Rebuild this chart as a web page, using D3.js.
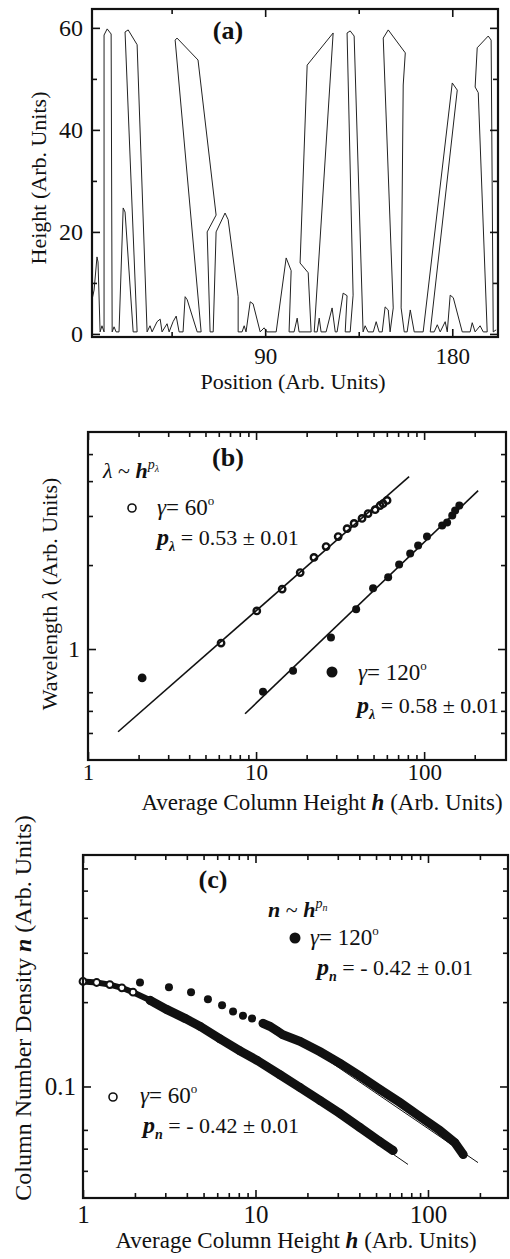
<!DOCTYPE html>
<html>
<head>
<meta charset="utf-8">
<script src="https://cdn.jsdelivr.net/npm/d3@7"></script>
<style>
  body { margin: 0; background: #fff; }
  svg text { font-family: "Liberation Serif", "Times New Roman", serif; fill: #111; }
</style>
</head>
<body>
<div id="chart"></div>
<script>
// ---------- data ----------

// (a) surface profile: [position, height]
const profile = [
  [6.7,6.7],[7.7,8.6],[9.1,15.1],[9.6,14.1],[10.6,0.4],[11.5,1.6],[12.5,0.4],[12.5,58.6],[14.0,59.8],[15.9,58.8],
  [16.4,0.4],[17.3,1.4],[18.3,0.4],[19.7,0.4],[21.7,24.7],[22.6,23.9],[26.5,0.4],[28.4,0.4],[22.6,59.2],[24.1,59.6],
  [28.4,56.7],[33.2,0.4],[34.6,1.6],[35.6,0.4],[38.0,2.4],[39.5,2.9],[40.4,0.4],[42.8,2.0],[43.8,0.4],[45.7,2.4],
  [47.2,3.5],[48.6,0.4],[50.5,0.4],[51.5,7.3],[52.5,6.7],[57.3,0.4],[59.2,0.4],[46.7,57.6],[47.6,58.0],[57.7,53.7],
  [66.4,23.3],[62.1,20.0],[63.5,0.4],[65.0,0.4],[66.4,20.0],[70.7,23.7],[72.2,22.4],[77.0,7.3],[77.0,0.4],[78.9,0.4],
  [79.9,1.6],[80.8,0.4],[82.8,6.3],[84.2,5.9],[87.6,0.4],[89.5,1.2],[90.9,0.4],[95.3,0.4],[100.1,14.9],[102.5,12.4],
  [101.5,0.4],[103.9,0.4],[105.4,3.1],[106.3,0.4],[112.1,0.4],[110.7,12.0],[106.8,13.9],[110.2,52.7],[122.7,59.0],[113.6,0.4],
  [115.0,0.4],[116.0,3.1],[116.9,0.4],[119.3,0.4],[122.2,5.1],[123.7,0.4],[124.6,0.4],[127.5,8.0],[129.4,7.5],[128.5,0.4],
  [130.9,0.4],[132.3,7.6],[129.4,59.0],[130.9,59.4],[132.8,58.4],[137.1,0.4],[138.1,1.6],[139.5,0.4],[142.0,0.4],[143.4,2.4],
  [144.8,0.4],[146.3,0.4],[147.7,5.3],[149.2,4.7],[150.1,0.4],[151.6,5.1],[146.8,58.0],[149.2,59.6],[157.4,55.1],[156.4,48.8],
  [155.4,5.1],[156.9,0.4],[158.3,0.4],[159.8,4.7],[161.7,0.4],[166.0,0.4],[180.0,49.2],[182.4,47.8],[169.4,0.4],[171.3,0.4],
  [172.8,1.8],[174.2,0.4],[176.6,2.4],[177.6,0.4],[179.0,7.6],[180.5,7.1],[184.8,0.4],[188.6,0.4],[189.6,2.2],[191.0,0.4],
  [193.4,1.6],[194.9,0.4],[196.8,0.4],[192.5,47.3],[191.0,48.4],[192.0,56.1],[197.3,58.4],[198.7,57.6],[199.7,0.4],[201.1,0.8]
];
const aXMajor = [90, 180];
const aXMinor = [45, 135];
const aYMajor = [0, 20, 40, 60];
const aYMinor = [10, 30, 50];

// (b) wavelength vs average column height
const lam60H  = [2.1, 6.19, 10.1, 14.3, 18.3, 22.1, 26.1, 30.8, 34.8, 38.3, 42.7, 46.4, 51.1, 54.7, 57.0, 60.2];
const lam60   = [0.788, 1.05, 1.37, 1.64, 1.88, 2.13, 2.33, 2.53, 2.70, 2.82, 2.94, 3.06, 3.16, 3.27, 3.32, 3.41];
const lam120H = [11.0, 16.6, 27.9, 39.4, 49.7, 61.1, 71.0, 82.6, 92.1, 104, 128, 137, 147, 153, 162];
const lam120  = [0.702, 0.835, 1.10, 1.39, 1.65, 1.81, 2.01, 2.20, 2.35, 2.53, 2.77, 2.84, 3.01, 3.14, 3.27];
const lamFit60  = [[1.51, 0.505], [81.4, 4.15]];
const lamFit120 = [[8.6, 0.586], [209.6, 3.70]];
const logXMajor = [1, 10, 100];
const logXMinor = [2, 3, 4, 5, 6, 7, 8, 9, 20, 30, 40, 50, 60, 70, 80, 90, 200];
const bYMajor = [1];
const bYMinor = [0.5, 0.6, 0.7, 2, 3, 4, 5];

// (c) column number density vs average column height
const den60H  = [1.0, 1.2, 1.43, 1.68, 1.95, 2.45, 3.07, 3.90, 4.77, 6.22, 8.13, 10.2, 13.9, 18.1, 23.7, 30.9, 40.3, 52.7, 62.7];
const den60   = [0.237, 0.235, 0.231, 0.225, 0.217, 0.203, 0.188, 0.175, 0.164, 0.148, 0.134, 0.124, 0.110, 0.0992, 0.0891, 0.0801, 0.0714, 0.0636, 0.0591];
const den120H = [2.14, 3.15, 4.23, 5.30, 6.40, 7.41, 8.46, 9.55, 11.05, 12.1, 13.3, 14.4, 18.1, 23.7, 30.9, 40.3, 52.7, 68.8, 89.9, 117, 143, 160];
const den120  = [0.235, 0.226, 0.217, 0.205, 0.195, 0.185, 0.179, 0.175, 0.168, 0.164, 0.158, 0.153, 0.145, 0.133, 0.121, 0.109, 0.0975, 0.0877, 0.0781, 0.0697, 0.0631, 0.0572];
const denFit60  = [[10.2, 0.124], [76.6, 0.0527]];
const denFit120 = [[18.1, 0.145], [195, 0.0535]];
const cYMajor = [0.1];
const cYMinor = [0.05, 0.06, 0.07, 0.2, 0.3, 0.4, 0.5, 0.6];

// ---------- svg ----------
const W = 510, H = 1259;
const svg = d3.select('#chart')
  .append('svg')
  .attr('width', W)
  .attr('height', H)
  .attr('viewBox', [0, 0, W, H]);

const serif = '"Liberation Serif", "Times New Roman", serif';

function addAxis(g, axis, tr, vals, size, fmt, pad, fs) {
  const a = g.append('g')
    .attr('transform', tr)
    .call(axis.tickValues(vals).tickSize(-size).tickPadding(pad || 3).tickFormat(fmt || (() => '')))
    .attr('font-family', serif)
    .attr('font-size', fs || 24);
  a.select('.domain').remove();
  a.selectAll('line').attr('stroke', '#111').attr('stroke-width', 1.6);
  a.selectAll('text').attr('fill', '#111');
  return a;
}

function frame(g, w, h) {
  g.append('rect')
    .attr('width', w).attr('height', h)
    .attr('fill', 'none').attr('stroke', '#111').attr('stroke-width', 2.2);
}

function legendGamma(x0, y0, deg) {
  const t = svg.append('text').attr('x', x0).attr('y', y0).attr('font-size', 23);
  t.append('tspan').attr('font-style', 'italic').text('γ');
  t.append('tspan').text('= ' + deg);
  t.append('tspan').attr('font-size', 13).attr('dy', -10).text('o');
}

function legendP(x0, y0, sub, rest) {
  const t = svg.append('text').attr('x', x0).attr('y', y0).attr('font-size', 22);
  t.append('tspan').attr('font-style', 'italic').attr('font-weight', 'bold').attr('font-size', 24).text('p');
  t.append('tspan').attr('font-style', 'italic').attr('font-weight', 'bold').attr('font-size', 14).attr('dy', 6).text(sub);
  t.append('tspan').attr('dy', -6).text(' = ' + rest);
}

function xTitle(cx, y0) {
  const t = svg.append('text').attr('x', cx).attr('y', y0)
    .attr('text-anchor', 'middle').attr('font-size', 23);
  t.append('tspan').text('Average Column Height ');
  t.append('tspan').attr('font-style', 'italic').attr('font-weight', 'bold').text('h');
  t.append('tspan').text(' (Arb. Units)');
}

// ================= (a) =================
{
  const left = 92, top = 9, w = 406, h = 328;
  const g = svg.append('g').attr('transform', `translate(${left},${top})`);
  const x = d3.scaleLinear().domain([6.7, 202]).range([0, w]);
  const y = d3.scaleLinear().domain([-0.6, 63.7]).range([h, 0]);

  g.append('path')
    .datum(profile)
    .attr('fill', 'none')
    .attr('stroke', '#222')
    .attr('stroke-width', 1)
    .attr('stroke-linejoin', 'round')
    .attr('d', d3.line().x(d => x(d[0])).y(d => y(d[1])));

  addAxis(g, d3.axisBottom(x), `translate(0,${h})`, aXMajor, 8, d3.format('d'), 11, 23);
  addAxis(g, d3.axisBottom(x), `translate(0,${h})`, aXMinor, 5);
  addAxis(g, d3.axisTop(x), 'translate(0,0)', aXMajor, 8);
  addAxis(g, d3.axisTop(x), 'translate(0,0)', aXMinor, 5);
  addAxis(g, d3.axisLeft(y), 'translate(0,0)', aYMajor, 8, d3.format('d'), 9, 24);
  addAxis(g, d3.axisLeft(y), 'translate(0,0)', aYMinor, 5);
  addAxis(g, d3.axisRight(y), `translate(${w},0)`, aYMajor, 8);
  addAxis(g, d3.axisRight(y), `translate(${w},0)`, aYMinor, 5);
  frame(g, w, h);

  svg.append('text').attr('x', 228).attr('y', 39)
    .attr('text-anchor', 'middle').attr('font-size', 26).attr('font-weight', 'bold').text('(a)');
  svg.append('text').attr('transform', 'translate(46,178) rotate(-90)')
    .attr('text-anchor', 'middle').attr('font-size', 22).text('Height (Arb. Units)');
  svg.append('text').attr('x', 293).attr('y', 389)
    .attr('text-anchor', 'middle').attr('font-size', 22).text('Position (Arb. Units)');
}

// ================= (b) =================
{
  const left = 88, top = 432, w = 418, h = 328;
  const g = svg.append('g').attr('transform', `translate(${left},${top})`);
  const x = d3.scaleLog().domain([1, 307]).range([0, w]);
  const y = d3.scaleLog().domain([0.4, 6]).range([h, 0]);
  const line = d3.line().x(d => x(d[0])).y(d => y(d[1]));

  g.append('path').datum(lamFit60).attr('d', line)
    .attr('fill', 'none').attr('stroke', '#111').attr('stroke-width', 1.6);
  g.append('path').datum(lamFit120).attr('d', line)
    .attr('fill', 'none').attr('stroke', '#111').attr('stroke-width', 1.6);

  g.selectAll('.p60').data(lam60H).join('circle')
    .attr('class', 'p60')
    .attr('cx', d => x(d)).attr('cy', (d, i) => y(lam60[i]))
    .attr('r', 3.2)
    .attr('fill', (d, i) => i === 0 ? '#111' : 'none')
    .attr('stroke', '#111').attr('stroke-width', 2.4);

  g.selectAll('.p120').data(lam120H).join('circle')
    .attr('class', 'p120')
    .attr('cx', d => x(d)).attr('cy', (d, i) => y(lam120[i]))
    .attr('r', 4).attr('fill', '#111');

  addAxis(g, d3.axisBottom(x), `translate(0,${h})`, logXMajor, 8, d3.format('d'), 4, 23);
  addAxis(g, d3.axisBottom(x), `translate(0,${h})`, logXMinor, 5);
  addAxis(g, d3.axisTop(x), 'translate(0,0)', logXMajor, 8);
  addAxis(g, d3.axisTop(x), 'translate(0,0)', logXMinor, 5);
  addAxis(g, d3.axisLeft(y), 'translate(0,0)', bYMajor, 8, d3.format('d'), 8, 24);
  addAxis(g, d3.axisLeft(y), 'translate(0,0)', bYMinor, 5);
  addAxis(g, d3.axisRight(y), `translate(${w},0)`, bYMajor, 8);
  addAxis(g, d3.axisRight(y), `translate(${w},0)`, bYMinor, 5);
  frame(g, w, h);

  svg.append('text').attr('x', 228).attr('y', 466)
    .attr('text-anchor', 'middle').attr('font-size', 26).attr('font-weight', 'bold').text('(b)');

  const law = svg.append('text').attr('x', 103).attr('y', 478).attr('font-size', 22);
  law.append('tspan').attr('font-style', 'italic').text('λ');
  law.append('tspan').text(' ~ ');
  law.append('tspan').attr('font-style', 'italic').attr('font-weight', 'bold').text('h');
  law.append('tspan').attr('font-style', 'italic').attr('font-size', 14).attr('dy', -9).text('p');
  law.append('tspan').attr('font-style', 'italic').attr('font-size', 10).attr('dy', 3).text('λ');

  svg.append('circle').attr('cx', 132).attr('cy', 508).attr('r', 4)
    .attr('fill', 'none').attr('stroke', '#111').attr('stroke-width', 1.6);
  legendGamma(157, 515, '60');
  legendP(157, 545, 'λ', '0.53 ± 0.01');

  svg.append('circle').attr('cx', 332).attr('cy', 672).attr('r', 5.5).attr('fill', '#111');
  legendGamma(358, 680, '120');
  legendP(357, 713, 'λ', '0.58 ± 0.01');

  const yt = svg.append('text').attr('transform', 'translate(57,594) rotate(-90)')
    .attr('text-anchor', 'middle').attr('font-size', 22);
  yt.append('tspan').text('Wavelength ');
  yt.append('tspan').attr('font-style', 'italic').text('λ');
  yt.append('tspan').text(' (Arb. Units)');

  xTitle(322, 810);
}

// ================= (c) =================
{
  const left = 83, top = 855, w = 425, h = 343;
  const g = svg.append('g').attr('transform', `translate(${left},${top})`);
  const x = d3.scaleLog().domain([1, 291]).range([0, w]);
  const y = d3.scaleLog().domain([0.04, 0.67]).range([h, 0]);
  const line = d3.line().x(d => x(d[0])).y(d => y(d[1]));

  // dense marker bands
  const pts60 = den60H.map((d, i) => [d, den60[i]]);
  const band60a = pts60.filter(d => d[0] <= 2.5);
  const band60b = pts60.filter(d => d[0] >= 2.4);
  const band120 = den120H.map((d, i) => [d, den120[i]]).filter(d => d[0] >= 11);
  g.append('path').datum(band60a).attr('d', line)
    .attr('fill', 'none').attr('stroke', '#111').attr('stroke-width', 6).attr('stroke-linecap', 'round');
  g.append('path').datum(band60b).attr('d', line)
    .attr('fill', 'none').attr('stroke', '#111').attr('stroke-width', 9).attr('stroke-linecap', 'round');
  g.append('path').datum(band120).attr('d', line)
    .attr('fill', 'none').attr('stroke', '#111').attr('stroke-width', 9).attr('stroke-linecap', 'round');

  g.append('path').datum(denFit60).attr('d', line)
    .attr('fill', 'none').attr('stroke', '#111').attr('stroke-width', 1);
  g.append('path').datum(denFit120).attr('d', line)
    .attr('fill', 'none').attr('stroke', '#111').attr('stroke-width', 1);

  g.selectAll('.d60').data(den60H).join('circle')
    .attr('class', 'd60')
    .attr('cx', d => x(d)).attr('cy', (d, i) => y(den60[i]))
    .attr('r', 3.4).attr('fill', (d, i) => d < 2.2 ? '#fff' : 'none')
    .attr('stroke', '#111').attr('stroke-width', 2);

  g.selectAll('.d120').data(den120H).join('circle')
    .attr('class', 'd120')
    .attr('cx', d => x(d)).attr('cy', (d, i) => y(den120[i]))
    .attr('r', 4).attr('fill', '#111');

  addAxis(g, d3.axisBottom(x), `translate(0,${h})`, logXMajor, 8, d3.format('d'), 7, 25);
  addAxis(g, d3.axisBottom(x), `translate(0,${h})`, logXMinor, 5);
  addAxis(g, d3.axisTop(x), 'translate(0,0)', logXMajor, 8);
  addAxis(g, d3.axisTop(x), 'translate(0,0)', logXMinor, 5);
  addAxis(g, d3.axisLeft(y), 'translate(0,0)', cYMajor, 8, d3.format('.1f'), 7, 25);
  addAxis(g, d3.axisLeft(y), 'translate(0,0)', cYMinor, 5);
  addAxis(g, d3.axisRight(y), `translate(${w},0)`, cYMajor, 8);
  addAxis(g, d3.axisRight(y), `translate(${w},0)`, cYMinor, 5);
  frame(g, w, h);

  svg.append('text').attr('x', 213).attr('y', 888)
    .attr('text-anchor', 'middle').attr('font-size', 26).attr('font-weight', 'bold').text('(c)');

  const law = svg.append('text').attr('x', 268).attr('y', 917).attr('font-size', 22);
  law.append('tspan').attr('font-style', 'italic').attr('font-weight', 'bold').text('n');
  law.append('tspan').text(' ~ ');
  law.append('tspan').attr('font-style', 'italic').attr('font-weight', 'bold').text('h');
  law.append('tspan').attr('font-style', 'italic').attr('font-size', 14).attr('dy', -9).text('p');
  law.append('tspan').attr('font-style', 'italic').attr('font-size', 10).attr('dy', 3).text('n');

  svg.append('circle').attr('cx', 295).attr('cy', 938).attr('r', 5.5).attr('fill', '#111');
  legendGamma(310, 945, '120');
  legendP(317, 975, 'n', '- 0.42 ± 0.01');

  svg.append('circle').attr('cx', 113).attr('cy', 1097).attr('r', 4)
    .attr('fill', 'none').attr('stroke', '#111').attr('stroke-width', 1.6);
  legendGamma(140, 1103, '60');
  legendP(143, 1133, 'n', '- 0.42 ± 0.01');

  const yt = svg.append('text').attr('transform', 'translate(31,1008) rotate(-90)')
    .attr('text-anchor', 'middle').attr('font-size', 24);
  yt.append('tspan').text('Column Number Density ');
  yt.append('tspan').attr('font-style', 'italic').attr('font-weight', 'bold').text('n');
  yt.append('tspan').text(' (Arb. Units)');

  xTitle(296, 1248);
}
</script>
</body>
</html>
